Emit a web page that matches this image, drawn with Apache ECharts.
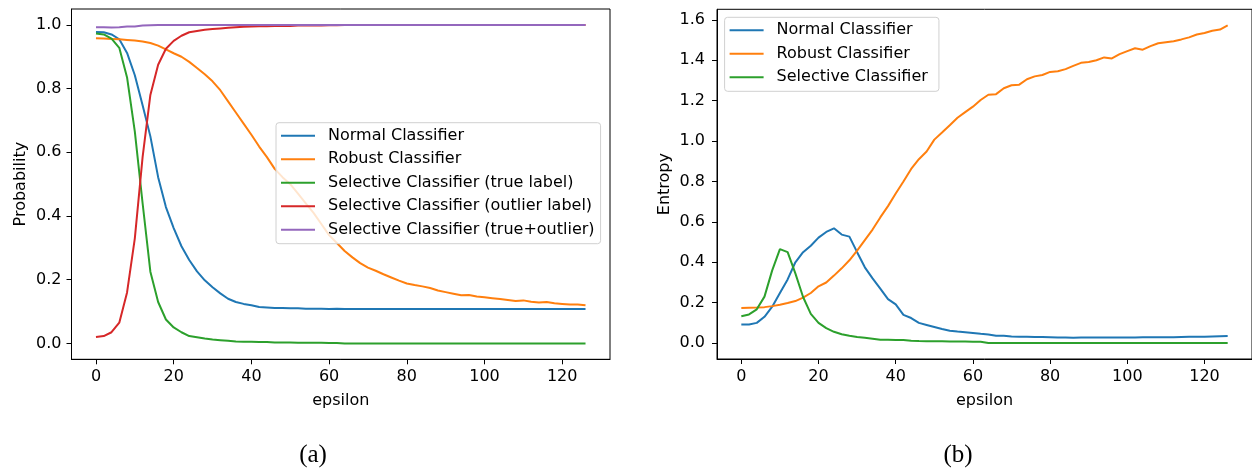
<!DOCTYPE html>
<html>
<head>
<meta charset="utf-8">
<script src="https://cdn.jsdelivr.net/npm/echarts@6/dist/echarts.min.js"></script>
<style>
html,body{margin:0;padding:0;background:#fff;}
#chart{width:1252px;height:468px;}
</style>
</head>
<body>
<div id="chart"></div>
<script>
// ---------- data ----------
const eps = [0,2,4,6,8,10,12,14,16,18,20,22,24,26,28,30,32,34,36,38,40,42,44,46,48,50,52,54,56,58,60,62,
             64,66,68,70,72,74,76,78,80,82,84,86,88,90,92,94,96,98,100,102,104,106,108,110,112,114,116,118,120,122,124,126];
const xTicks = [0,20,40,60,80,100,120];
const probTicks = [0,0.2,0.4,0.6,0.8,1.0];
const entTicks = [0,0.2,0.4,0.6,0.8,1.0,1.2,1.4,1.6];

const probNormal = [0.978,0.977,0.970,0.955,0.912,0.842,0.748,0.650,0.522,0.428,0.362,0.305,0.262,0.226,0.198,0.176,0.157,0.140,0.130,0.124,0.120,0.114,0.113,0.111,0.111,0.110,0.110,0.109,0.109,0.109,0.108,0.109,
  0.108,0.108,0.108,0.108,0.108,0.108,0.108,0.108,0.108,0.108,0.108,0.108,0.108,0.108,0.108,0.108,0.108,0.108,0.108,0.108,0.108,0.108,0.108,0.108,0.108,0.108,0.108,0.108,0.108,0.108,0.108,0.108];
const probRobust = [0.958,0.957,0.956,0.955,0.953,0.951,0.948,0.943,0.935,0.923,0.911,0.900,0.884,0.865,0.845,0.823,0.795,0.760,0.725,0.690,0.655,0.618,0.585,0.548,0.522,0.500,0.470,0.440,0.410,0.375,0.340,0.315,
  0.290,0.270,0.252,0.238,0.228,0.217,0.207,0.197,0.188,0.183,0.179,0.174,0.166,0.161,0.156,0.151,0.152,0.147,0.145,0.142,0.139,0.136,0.133,0.135,0.131,0.128,0.130,0.126,0.124,0.122,0.122,0.120];
const probSelTrue = [0.973,0.970,0.957,0.928,0.835,0.665,0.440,0.225,0.130,0.075,0.050,0.035,0.023,0.019,0.015,0.012,0.010,0.008,0.006,0.005,0.005,0.004,0.004,0.003,0.003,0.003,0.002,0.002,0.002,0.002,0.001,0.001,
  0,0,0,0,0,0,0,0,0,0,0,0,0,0,0,0,0,0,0,0,0,0,0,0,0,0,0,0,0,0,0,0];
const probSelOutlier = [0.020,0.023,0.035,0.065,0.160,0.330,0.585,0.780,0.875,0.925,0.950,0.966,0.977,0.981,0.985,0.987,0.989,0.991,0.993,0.994,0.995,0.996,0.996,0.997,0.997,0.997,0.998,0.998,0.998,0.998,0.999,0.999,
  1,1,1,1,1,1,1,1,1,1,1,1,1,1,1,1,1,1,1,1,1,1,1,1,1,1,1,1,1,1,1,1];
const probSelSum = [0.993,0.993,0.992,0.993,0.995,0.995,0.998,0.999,1,1,1,1,1,1,1,1,1,1,1,1,1,1,1,1,1,1,1,1,1,1,1,1,
  1,1,1,1,1,1,1,1,1,1,1,1,1,1,1,1,1,1,1,1,1,1,1,1,1,1,1,1,1,1,1,1];

const entNormal = [0.092,0.092,0.100,0.130,0.180,0.248,0.315,0.400,0.450,0.482,0.522,0.550,0.568,0.537,0.527,0.450,0.375,0.320,0.270,0.218,0.192,0.140,0.124,0.100,0.090,0.080,0.070,0.061,0.057,0.054,0.050,0.046,
  0.043,0.036,0.036,0.033,0.032,0.031,0.030,0.030,0.029,0.028,0.028,0.027,0.028,0.028,0.028,0.028,0.028,0.028,0.028,0.028,0.029,0.029,0.029,0.029,0.029,0.030,0.031,0.031,0.032,0.033,0.034,0.035];
const entRobust = [0.174,0.175,0.176,0.178,0.183,0.190,0.198,0.208,0.225,0.248,0.281,0.300,0.334,0.370,0.410,0.458,0.510,0.562,0.622,0.678,0.740,0.800,0.862,0.910,0.948,1.007,1.042,1.078,1.115,1.143,1.170,1.203,
  1.229,1.232,1.261,1.276,1.279,1.306,1.320,1.327,1.342,1.345,1.356,1.372,1.387,1.391,1.400,1.414,1.409,1.430,1.445,1.459,1.452,1.470,1.484,1.489,1.494,1.503,1.513,1.527,1.535,1.546,1.552,1.573];
const entSelective = [0.133,0.142,0.167,0.230,0.360,0.465,0.450,0.345,0.228,0.145,0.100,0.074,0.056,0.044,0.036,0.030,0.026,0.022,0.017,0.016,0.015,0.015,0.012,0.010,0.009,0.009,0.009,0.008,0.008,0.008,0.007,0.007,
  0,0,0,0,0,0,0,0,0,0,0,0,0,0,0,0,0,0,0,0,0,0,0,0,0,0,0,0,0,0,0,0];

const probNames = ['Normal Classifier','Robust Classifier','Selective Classifier (true label)','Selective Classifier (outlier label)','Selective Classifier (true+outlier)'];
const entNames = ['Normal Classifier','Robust Classifier','Selective Classifier'];
// ---------- end data ----------

const colors = ['#1f77b4','#ff7f0e','#2ca02c','#d62728','#9467bd'];
const FONT = 'DejaVu Sans';
const pair = (ys) => eps.map((x, i) => [x, ys[i]]);

function xAxisCfg(gridIndex) {
  return {
    type: 'value', gridIndex, min: -6.3, max: 132.3, position: 'bottom',
    name: 'epsilon', nameLocation: 'middle', nameGap: 34,
    nameTextStyle: {fontFamily: FONT, fontSize: 16, color: '#000'},
    axisLine: {show: true, onZero: false, lineStyle: {color: '#000', width: 1}},
    axisTick: {show: true, length: 5, inside: false, customValues: xTicks, lineStyle: {color: '#000', width: 1}},
    axisLabel: {show: true, customValues: xTicks, margin: 10, fontFamily: FONT, fontSize: 16, color: '#000'},
    splitLine: {show: false}
  };
}
function yAxisCfg(gridIndex, name, min, max, ticks, gap, margin) {
  return {
    type: 'value', gridIndex, min, max, position: 'left',
    name, nameLocation: 'middle', nameGap: gap, nameRotate: 90,
    nameTextStyle: {fontFamily: FONT, fontSize: 16, color: '#000'},
    axisLine: {show: true, onZero: false, lineStyle: {color: '#000', width: 1}},
    axisTick: {show: true, length: 5, inside: false, customValues: ticks, lineStyle: {color: '#000', width: 1}},
    axisLabel: {show: true, customValues: ticks, margin, fontFamily: FONT, fontSize: 16, color: '#000',
      formatter: (v) => v.toFixed(1)},
    splitLine: {show: false}
  };
}
function lineSeries(name, ys, color, xi, yi) {
  return {
    type: 'line', name, data: pair(ys), xAxisIndex: xi, yAxisIndex: yi,
    symbol: 'none', smooth: false, animation: false,
    lineStyle: {color, width: 2}, itemStyle: {color}
  };
}

const legendBase = {
  orient: 'vertical', icon: 'rect', itemWidth: 34, itemHeight: 2, itemGap: 7.5,
  backgroundColor: 'rgba(255,255,255,0.8)', borderColor: '#d0d0d0', borderWidth: 1, borderRadius: 3,
  textStyle: {fontFamily: FONT, fontSize: 16, color: '#000', lineHeight: 16, padding: [0,0,0,8]},
  selectedMode: false
};

const chart = echarts.init(document.getElementById('chart'), null, {renderer: 'canvas'});
chart.setOption({
  backgroundColor: '#fff',
  animation: false,
  grid: [
    {left: 71.5, top: 9, width: 538.5, height: 350.3, show: true, borderColor: '#000', borderWidth: 1, backgroundColor: 'transparent'},
    {left: 717, top: 9.3, width: 538.5, height: 349.7, show: true, borderColor: '#000', borderWidth: 1, backgroundColor: 'transparent'}
  ],
  xAxis: [xAxisCfg(0), xAxisCfg(1)],
  yAxis: [
    yAxisCfg(0, 'Probability', -0.05, 1.05, probTicks, 43, 10),
    yAxisCfg(1, 'Entropy', -0.0787, 1.652, entTicks, 44, 12)
  ],
  legend: [
    Object.assign({}, legendBase, {left: 276, top: 122.7, padding: [5, 6, 6, 5], data: probNames}),
    Object.assign({}, legendBase, {left: 724.6, top: 17.3, padding: [5, 6, 6, 5], data: entNames.map(n => n + ' ')})
  ],
  series: [
    lineSeries(probNames[0], probNormal, colors[0], 0, 0),
    lineSeries(probNames[1], probRobust, colors[1], 0, 0),
    lineSeries(probNames[2], probSelTrue, colors[2], 0, 0),
    lineSeries(probNames[3], probSelOutlier, colors[3], 0, 0),
    lineSeries(probNames[4], probSelSum, colors[4], 0, 0),
    lineSeries(entNames[0] + ' ', entNormal, colors[0], 1, 1),
    lineSeries(entNames[1] + ' ', entRobust, colors[1], 1, 1),
    lineSeries(entNames[2] + ' ', entSelective, colors[2], 1, 1)
  ],
  graphic: [
    {type: 'text', x: 313, y: 455, style: {text: '(a)', font: '25px "Liberation Serif"', fill: '#000', align: 'center', verticalAlign: 'middle'}},
    {type: 'text', x: 958, y: 455, style: {text: '(b)', font: '25px "Liberation Serif"', fill: '#000', align: 'center', verticalAlign: 'middle'}}
  ]
});
</script>
</body>
</html>
